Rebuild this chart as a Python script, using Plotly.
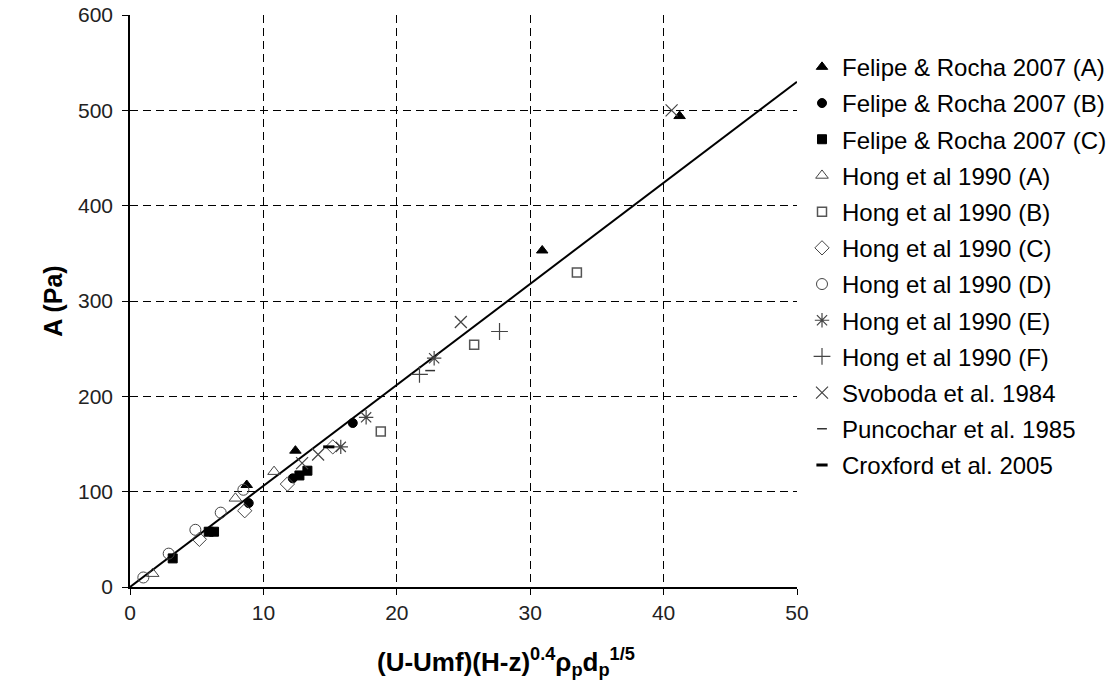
import plotly.graph_objects as go

# Felipe & Rocha 2007
felipe_a_x = [8.75, 12.4, 30.9, 41.2]
felipe_a_y = [107, 143, 353, 494]
felipe_b_x = [8.9, 12.2, 16.7]
felipe_b_y = [88, 114, 172]
felipe_c_x = [3.2, 5.9, 6.3, 12.7, 13.3]
felipe_c_y = [30, 58, 58, 117, 122]

# Hong et al 1990
hong_a_x = [1.7, 7.9, 10.8]
hong_a_y = [14, 93, 121]
hong_b_x = [18.8, 25.8, 33.5]
hong_b_y = [163, 254, 330]
hong_c_x = [5.2, 8.6, 11.8, 15.2]
hong_c_y = [50, 80, 108, 147]
hong_d_x = [1.0, 2.9, 4.9, 6.8, 8.5]
hong_d_y = [10, 35, 60, 78, 102]
hong_e_x = [15.8, 17.7, 22.8]
hong_e_y = [147, 178, 240]
hong_f_x = [21.7, 27.7]
hong_f_y = [223, 268]

# Other sources
svoboda_x = [12.9, 14.1, 24.8, 40.6]
svoboda_y = [130, 139, 278, 500]
puncochar_x = [22.5]
puncochar_y = [227]
croxford_x = [14.9]
croxford_y = [147]

# Correlation line
fit_x = [0, 50]
fit_y = [0, 530]

series = [
    ("Felipe & Rocha 2007 (A)", felipe_a_x, felipe_a_y, "triangle-up", "black", 10, 1),
    ("Felipe & Rocha 2007 (B)", felipe_b_x, felipe_b_y, "circle", "black", 9, 1),
    ("Felipe & Rocha 2007 (C)", felipe_c_x, felipe_c_y, "square", "black", 9, 1),
    ("Hong et al 1990 (A)", hong_a_x, hong_a_y, "triangle-up-open", "#444444", 11, 1),
    ("Hong et al 1990 (B)", hong_b_x, hong_b_y, "square-open", "#555555", 9, 1.5),
    ("Hong et al 1990 (C)", hong_c_x, hong_c_y, "diamond-open", "#444444", 11, 1),
    ("Hong et al 1990 (D)", hong_d_x, hong_d_y, "circle-open", "#444444", 11, 1),
    ("Hong et al 1990 (E)", hong_e_x, hong_e_y, "asterisk-open", "#444444", 12, 1.2),
    ("Hong et al 1990 (F)", hong_f_x, hong_f_y, "cross-thin-open", "#444444", 12, 1.2),
    ("Svoboda et al. 1984", svoboda_x, svoboda_y, "x-thin-open", "#444444", 12, 1.2),
    ("Puncochar et al. 1985", puncochar_x, puncochar_y, "line-ew-open", "#333333", 7, 1.5),
    ("Croxford et al. 2005", croxford_x, croxford_y, "line-ew-open", "black", 8, 3),
]

fig = go.Figure()

fig.add_trace(go.Scatter(
    x=fit_x, y=fit_y, mode="lines",
    line=dict(color="black", width=2),
    showlegend=False, hoverinfo="skip",
))

for i, (name, xs, ys, sym, col, size, lw) in enumerate(series):
    fig.add_trace(go.Scatter(
        x=xs, y=ys, mode="markers", name=name,
        legendgroup=f"g{i}",
        marker=dict(symbol=sym, size=size, color=col,
                    line=dict(color=col, width=lw)),
    ))

font_family = "Liberation Sans, Arial, sans-serif"

fig.update_layout(
    width=1110, height=695,
    margin=dict(l=130, r=313, t=15, b=108, autoexpand=False),
    plot_bgcolor="white", paper_bgcolor="white",
    font=dict(family=font_family, size=21, color="black"),
    legend=dict(
        x=1.0075, y=0.948, xanchor="left", yanchor="top",
        font=dict(size=24, family=font_family, color="black"),
        tracegroupgap=2, itemwidth=30,
        bgcolor="rgba(0,0,0,0)",
    ),
    xaxis=dict(
        range=[0, 50], dtick=10, tick0=0,
        showline=True, linecolor="black", linewidth=1.5,
        ticks="outside", ticklen=6, tickcolor="black",
        showgrid=True, gridcolor="black", gridwidth=1, griddash="8px,5px",
        zeroline=False,
        tickfont=dict(size=21, color="#222222"),
    ),
    yaxis=dict(
        range=[0, 600], dtick=100, tick0=0,
        showline=True, linecolor="black", linewidth=1.5,
        ticks="outside", ticklen=6, tickcolor="black",
        ticklabelstandoff=5,
        showgrid=True, gridcolor="black", gridwidth=1, griddash="8px,5px",
        zeroline=False,
        tickfont=dict(size=21, color="#222222"),
        title=dict(text="<b>A (Pa)</b>", font=dict(size=25, color="black"),
                   standoff=8),
    ),
    annotations=[dict(
        text="<b>(U-Umf)(H-z)<sup>0.4</sup>ρ<sub>p</sub>d<sub>p</sub><sup>1/5</sup></b>",
        xref="paper", yref="paper", x=0.563, y=-0.131,
        xanchor="center", yanchor="middle", showarrow=False,
        font=dict(size=26, color="black", family=font_family),
    )],
)

fig.write_html("out.html")
